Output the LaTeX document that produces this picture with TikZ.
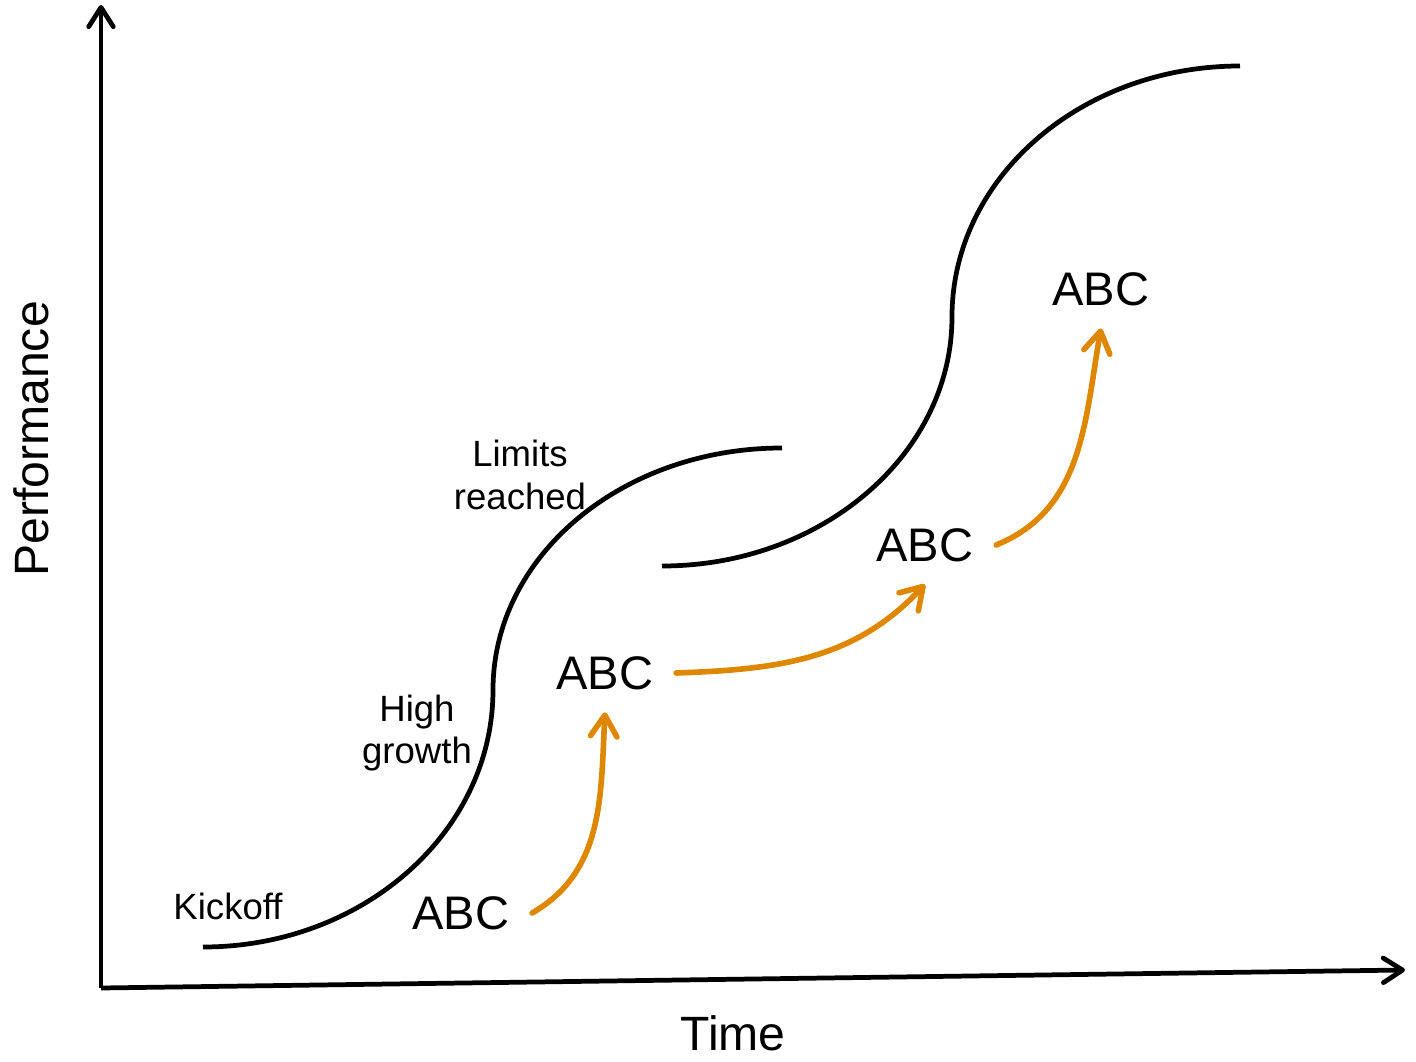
\documentclass[tikz,border=0pt]{standalone}
\usepackage{fontspec}
\setmainfont{Liberation Sans}
\usetikzlibrary{arrows.meta}
\definecolor{arroworange}{RGB}{221,136,0}
\tikzset{
  axis/.style={line width=1.35pt,-{Straight Barb[round,length=5.5pt,width=7pt]}},
  scurve/.style={line width=1.35pt},
  push/.style={line width=1.6pt,color=arroworange,line cap=round,-{Straight Barb[round,length=6pt,width=7.5pt]}},
  phase/.style={font=\fontsize{10.4}{12}\selectfont,align=center,inner sep=0pt},
  abc/.style={font=\fontsize{13.4}{16}\selectfont,inner sep=0.22cm},
  title/.style={font=\fontsize{13.7}{16}\selectfont,inner sep=0pt}
}
\begin{document}
\begin{tikzpicture}
\useasboundingbox (0,0) rectangle (14.16,10.61);
\coordinate (origin) at (1.01,0.73);
\coordinate (ytip) at (1.01,10.56);
\coordinate (xtip) at (14.05,0.91);
\draw[axis] (origin) -- (ytip);
\draw[axis] (origin) -- (xtip);
\node[title,rotate=90] (perf) at (0.31,6.22) {Performance};
\node[title] (time) at (7.33,0.28) {Time};
% first S-curve
\draw[scurve] (2.03,1.14) .. controls (3.63,1.14) and (4.93,2.29) .. (4.93,3.71)
  .. controls (4.93,5.05) and (6.22,6.13) .. (7.82,6.13);
% second S-curve
\draw[scurve] (6.62,4.95) .. controls (8.22,4.95) and (9.52,6.07) .. (9.52,7.44)
  .. controls (9.52,8.83) and (10.81,9.95) .. (12.40,9.95);
\node[phase] (kickoff) at (2.28,1.55) {Kickoff};
\node[phase] (growth) at (4.17,3.28) {High\\growth};
\node[phase] (limits) at (5.20,5.86) {Limits\\reached};
\node[abc] (abc1) at (4.61,1.48) {ABC};
\node[abc] (abc2) at (6.05,3.88) {ABC};
\node[abc] (abc3) at (9.25,5.16) {ABC};
\node[abc] (abc4) at (11.01,7.72) {ABC};
\draw[push] (abc1.east) to[out=30,in=-93] (abc2.south);
\draw[push] (abc2.east) to[out=2,in=-133] (abc3.south);
\draw[push] (abc3.east) to[out=22,in=-100] (abc4.south);
\end{tikzpicture}
\end{document}
